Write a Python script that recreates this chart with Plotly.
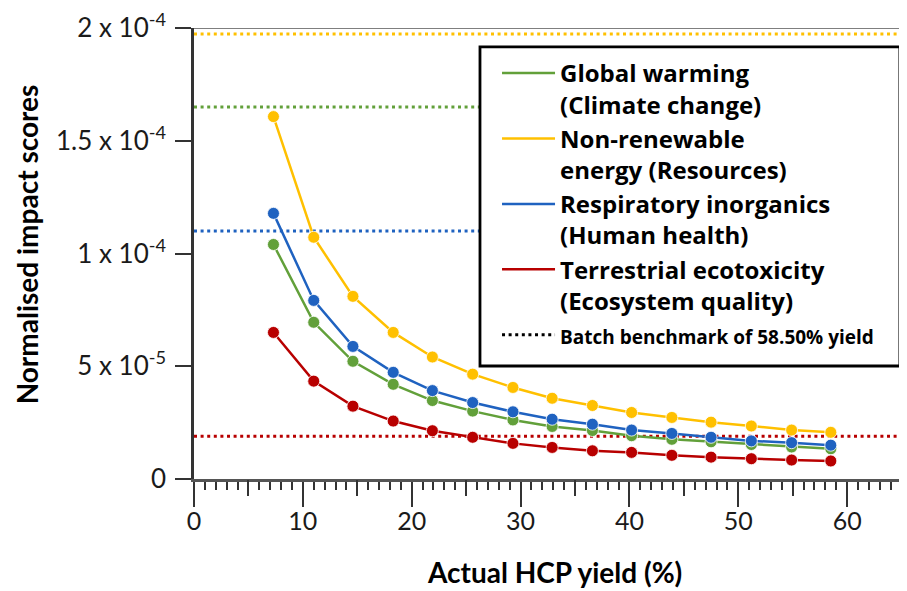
import plotly.graph_objects as go

# ---- data ----
yield_pct = [7.3, 11.0, 14.6, 18.3, 21.9, 25.6, 29.3, 32.9, 36.6, 40.2, 43.9, 47.5, 51.2, 54.9, 58.5]
global_warming = [1.04e-4, 6.95e-5, 5.22e-5, 4.20e-5, 3.48e-5, 3.01e-5, 2.62e-5, 2.33e-5, 2.15e-5,
                  1.92e-5, 1.76e-5, 1.65e-5, 1.53e-5, 1.42e-5, 1.34e-5]
non_renewable = [1.607e-4, 1.072e-4, 8.10e-5, 6.50e-5, 5.41e-5, 4.65e-5, 4.06e-5, 3.58e-5, 3.26e-5,
                 2.95e-5, 2.73e-5, 2.52e-5, 2.35e-5, 2.17e-5, 2.07e-5]
respiratory = [1.178e-4, 7.92e-5, 5.88e-5, 4.73e-5, 3.92e-5, 3.39e-5, 2.98e-5, 2.65e-5, 2.43e-5,
               2.17e-5, 2.02e-5, 1.85e-5, 1.69e-5, 1.61e-5, 1.50e-5]
terrestrial = [6.50e-5, 4.34e-5, 3.23e-5, 2.57e-5, 2.14e-5, 1.85e-5, 1.58e-5, 1.40e-5, 1.25e-5,
               1.18e-5, 1.05e-5, 9.7e-6, 9.0e-6, 8.4e-6, 8.0e-6]
# batch benchmark (58.50 % yield) for each category
benchmarks = [1.65e-4, 1.973e-4, 1.10e-4, 1.90e-5]

series_names = ["Global warming<br>(Climate change)",
                "Non-renewable<br>energy (Resources)",
                "Respiratory inorganics<br>(Human health)",
                "Terrestrial ecotoxicity<br>(Ecosystem quality)"]
benchmark_name = "Batch benchmark of 58.50% yield"
series_colors = ["#62a03a", "#ffc000", "#1f62c0", "#b80000"]

y_tickvals = [0, 5e-5, 1e-4, 1.5e-4, 2e-4]
y_ticktext = ["0", "5 x 10<sup>-5</sup>", "1 x 10<sup>-4</sup>", "1.5 x 10<sup>-4</sup>", "2 x 10<sup>-4</sup>"]
x_major = [0, 10, 20, 30, 40, 50, 60]
x_mid = [5, 15, 25, 35, 45, 55, 65]
x_range = [0, 65.5]
y_range = [0, 2e-4]

FONT = "Lato"
LEG_FONT = "Open Sans"
fig = go.Figure()

all_series = [global_warming, non_renewable, respiratory, terrestrial]

# benchmark dotted lines
for val, col in zip(benchmarks, series_colors):
    fig.add_trace(go.Scatter(x=x_range, y=[val, val], mode="lines",
                             line=dict(color=col, width=3, dash="3px,3.6px"),
                             showlegend=False, hoverinfo="skip", cliponaxis=False))

# series lines (legend entries)
for vals, name, col in zip(all_series, series_names, series_colors):
    fig.add_trace(go.Scatter(x=yield_pct, y=vals, mode="lines", name=name,
                             line=dict(color=col, width=2.5)))
# series markers
for vals, name, col in zip(all_series, series_names, series_colors):
    fig.add_trace(go.Scatter(x=yield_pct, y=vals, mode="markers", name=name, xaxis="x2",
                             marker=dict(color=col, size=12, line=dict(color="white", width=0.8)),
                             showlegend=False))

# legend entry for the benchmark lines
fig.add_trace(go.Scatter(x=[None], y=[None], mode="lines",
                         name='<span style="font-size:19px">' + benchmark_name + '</span>',
                         line=dict(color="black", width=3, dash="3px,3.6px")))

fig.update_layout(
    width=899, height=583,
    margin=dict(l=186, r=0, t=20, b=112),
    paper_bgcolor="white", plot_bgcolor="white",
    font=dict(family=FONT, size=25, color="#1a1a1a"),
    showlegend=True,
    legend=dict(x=0.425, y=0.949, xanchor="left", yanchor="top",
                bgcolor="rgba(0,0,0,0)", borderwidth=0,
                font=dict(family=LEG_FONT, size=24, color="black", weight="bold"),
                itemwidth=53, valign="top", tracegroupgap=0),
    xaxis=dict(range=x_range, tickmode="array", tickvals=x_major,
               ticks="outside", ticklen=25, tickwidth=2, tickcolor="#333333",
               showline=True, linecolor="#555555", linewidth=2.5,
               showgrid=False, zeroline=False, ticklabelstandoff=-7,
               tickfont=dict(family=FONT, size=25, color="#1a1a1a"),
               minor=dict(dtick=1, ticks="outside", ticklen=8, tickwidth=1.5, tickcolor="#333333")),
    xaxis2=dict(range=x_range, overlaying="x", anchor="y", side="bottom",
                tickmode="array", tickvals=x_mid, ticks="outside", ticklen=16, tickwidth=2,
                tickcolor="#333333", showticklabels=False, showline=False,
                showgrid=False, zeroline=False),
    yaxis=dict(range=y_range, tickmode="array", tickvals=y_tickvals, ticktext=y_ticktext,
               ticks="outside", ticklen=16, tickwidth=2, tickcolor="#333333",
               showline=True, linecolor="#333333", linewidth=2.5,
               showgrid=False, zeroline=False, ticklabelstandoff=4,
               tickfont=dict(family=FONT, size=26, color="#1a1a1a")),
    shapes=[
        dict(type="line", xref="paper", yref="y", x0=0, x1=1, y0=y_range[1], y1=y_range[1],
             line=dict(color="#7f7f7f", width=2)),
        # legend frame
        dict(type="rect", xref="paper", yref="paper", x0=0.4011, x1=0.990, y0=0.2506, y1=0.958,
             fillcolor="white", line=dict(color="black", width=2.8), layer="above"),
    ],
    annotations=[
        dict(text="<b>Normalised impact scores</b>", xref="paper", yref="paper",
             x=-0.233, y=0.52, xanchor="center", yanchor="middle", textangle=-90, showarrow=False,
             font=dict(family=FONT, size=28, color="black")),
        dict(text="<b>Actual HCP yield (%)</b>", xref="paper", yref="paper",
             x=0.505, y=-0.207, xanchor="center", yanchor="middle", showarrow=False,
             font=dict(family=FONT, size=28, color="black")),
    ],
)

fig.write_html("out.html")
